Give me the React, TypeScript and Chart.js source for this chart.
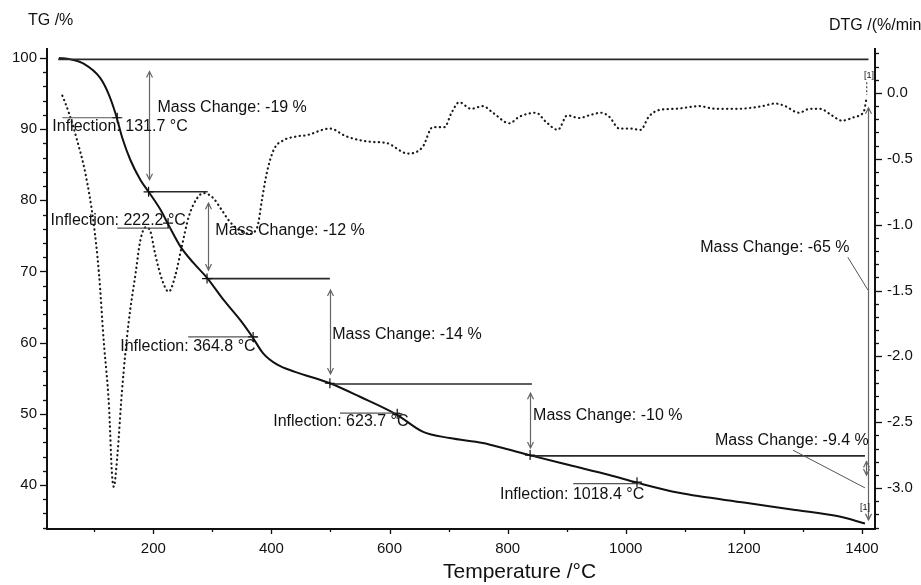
import React, { useEffect, useRef } from "react";
import { Chart, registerables } from "chart.js";

Chart.register(...registerables);

// ---------- data ----------
const tgTemp = [40, 60, 82, 110, 124, 136, 147, 161, 178, 192, 212, 226, 246, 268, 291, 319, 347, 367, 386, 410, 440, 499, 550, 612, 656, 702, 758, 792, 837, 904, 972, 1020, 1090, 1203, 1287, 1360, 1405];
const tgMass = [100, 99.8, 99.2, 97.2, 95.0, 92.2, 88.9, 85.7, 82.9, 81.2, 78.7, 76.5, 73.5, 71.2, 69.1, 66.0, 63.2, 60.9, 58.5, 56.9, 55.9, 54.3, 52.4, 49.9, 47.5, 46.6, 45.9, 45.2, 44.2, 42.8, 41.4, 40.3, 38.9, 37.5, 36.5, 35.6, 34.6];

const dtgTemp = [46, 57, 71, 85, 99, 108, 116, 125, 130, 133, 139, 147, 158, 170, 178, 187, 195, 203, 215, 226, 237, 248, 260, 274, 285, 302, 316, 330, 345, 362, 376, 384, 392, 404, 420, 443, 460, 499, 527, 566, 595, 631, 656, 673, 693, 705, 718, 738, 758, 775, 803, 820, 848, 865, 885, 901, 921, 938, 958, 972, 989, 1006, 1025, 1039, 1056, 1085, 1124, 1152, 1191, 1231, 1253, 1270, 1293, 1312, 1329, 1349, 1366, 1389, 1403, 1408];
const dtgRate = [-0.02, -0.15, -0.36, -0.61, -0.99, -1.37, -1.88, -2.38, -2.89, -2.99, -2.76, -2.26, -1.75, -1.37, -1.12, -1.02, -1.05, -1.22, -1.42, -1.51, -1.39, -1.17, -0.94, -0.80, -0.76, -0.80, -0.89, -0.98, -1.04, -1.07, -1.02, -0.81, -0.61, -0.43, -0.36, -0.33, -0.32, -0.27, -0.33, -0.37, -0.38, -0.46, -0.41, -0.26, -0.26, -0.15, -0.07, -0.12, -0.10, -0.15, -0.23, -0.18, -0.15, -0.22, -0.28, -0.17, -0.19, -0.17, -0.15, -0.18, -0.27, -0.27, -0.28, -0.18, -0.13, -0.12, -0.10, -0.12, -0.12, -0.10, -0.08, -0.10, -0.15, -0.12, -0.12, -0.17, -0.21, -0.18, -0.14, -0.03];

const tempTicks = [200, 400, 600, 800, 1000, 1200, 1400];
const tgTicks = [40, 50, 60, 70, 80, 90, 100];
const dtgTicks = [0, -0.5, -1, -1.5, -2, -2.5, -3];

// mass-change step lines: [tg, t1, t2]
const stepLines = [
  [99.8, 39, 1411],
  [81.2, 192, 292],
  [69.0, 291, 499],
  [54.2, 499, 841],
  [44.1, 838, 1405],
];
// vertical double arrows: [t, tgTop, tgBottom]
const stepArrows = [
  [193, 98.1, 82.9],
  [292, 79.6, 70.2],
  [499, 67.4, 55.6],
  [838, 52.9, 45.2],
  [1410, 93.0, 35.1],
  [1406, 43.3, 41.4],
];
const stepCrosses = [
  [192, 81.2],
  [291, 69.0],
  [499, 54.3],
  [838, 44.2],
];
// mass change labels: [text, t, tg]
const massLabels: [string, number, number][] = [
  ["Mass Change: -19 %", 207, 93.0],
  ["Mass Change: -12 %", 305, 75.7],
  ["Mass Change: -14 %", 503, 61.1],
  ["Mass Change: -10 %", 843, 49.8],
  ["Mass Change: -9.4 %", 1151, 46.3],
  ["Mass Change: -65 %", 1126, 73.4],
];
// leader lines: [t1, tg1, t2, tg2]
const leaders = [
  [1376, 72.0, 1410, 67.4],
  [1283, 44.9, 1405, 39.6],
];
// inflections: [text, labelT, labelTg, lineT1, lineT2, lineTg, markT, markTg]
const inflections: [string, number, number, number, number, number, number, number][] = [
  ["Inflection: 131.7 °C", 29, 90.3, 46, 144, 91.6, 139, 91.6],
  ["Inflection: 222.2 °C", 26, 77.2, 139, 229, 76.1, 225, 76.8],
  ["Inflection: 364.8 °C", 144, 59.4, 259, 376, 60.8, 369, 60.8],
  ["Inflection: 623.7 °C", 403, 48.9, 516, 618, 50.1, 613, 50.0],
  ["Inflection: 1018.4 °C", 787, 38.7, 911, 1024, 40.2, 1019, 40.4],
];
const markerTags: [string, number, number][] = [
  ["[1]", 1412, 97.5],
  ["[1]", 1405, 36.9],
];

const FONT = "'Liberation Sans', Arial, Helvetica, sans-serif";
const INK = "#111";

function arrowHead(ctx: CanvasRenderingContext2D, x: number, y: number, dir: number) {
  ctx.beginPath();
  ctx.moveTo(x - 3, y + dir * 6);
  ctx.lineTo(x, y);
  ctx.lineTo(x + 3, y + dir * 6);
  ctx.stroke();
}

const annoPlugin = {
  id: "tgAnno",
  afterDatasetsDraw(chart: any) {
    const { ctx, chartArea } = chart;
    const X = chart.scales.x;
    const YL = chart.scales.yL;
    const YR = chart.scales.yR;
    const px = (t: number) => X.getPixelForValue(t);
    const py = (v: number) => YL.getPixelForValue(v);
    ctx.save();

    // step lines
    ctx.strokeStyle = "#2a2a2a";
    ctx.lineWidth = 1.6;
    for (const [tg, t1, t2] of stepLines) {
      ctx.beginPath();
      ctx.moveTo(px(t1), py(tg));
      ctx.lineTo(px(t2), py(tg));
      ctx.stroke();
    }
    // arrows
    ctx.strokeStyle = "#666";
    ctx.lineWidth = 1.2;
    for (const [t, a, b] of stepArrows) {
      const x = Math.round(px(t)) + 0.5;
      const y1 = py(a), y2 = py(b);
      ctx.beginPath();
      ctx.moveTo(x, y1);
      ctx.lineTo(x, y2);
      ctx.stroke();
      arrowHead(ctx, x, y1, 1);
      arrowHead(ctx, x, y2, -1);
    }
    // leaders
    ctx.strokeStyle = "#555";
    ctx.lineWidth = 1;
    for (const [t1, a, t2, b] of leaders) {
      ctx.beginPath();
      ctx.moveTo(px(t1), py(a));
      ctx.lineTo(px(t2), py(b));
      ctx.stroke();
    }
    // inflection lines
    ctx.strokeStyle = "#555";
    ctx.lineWidth = 1.2;
    for (const inf of inflections) {
      const [, , , l1, l2, ltg] = inf;
      ctx.beginPath();
      ctx.moveTo(px(l1), py(ltg));
      ctx.lineTo(px(l2), py(ltg));
      ctx.stroke();
    }
    // crosses
    ctx.strokeStyle = INK;
    ctx.lineWidth = 1.2;
    const cross = (x: number, y: number) => {
      ctx.beginPath();
      ctx.moveTo(x - 5, y);
      ctx.lineTo(x + 5, y);
      ctx.moveTo(x, y - 5);
      ctx.lineTo(x, y + 5);
      ctx.stroke();
    };
    for (const inf of inflections) cross(px(inf[6]), py(inf[7]));
    for (const [t, tg] of stepCrosses) cross(px(t), py(tg));

    // dashed tag leader near the end of the DTG
    ctx.strokeStyle = "#444";
    ctx.setLineDash([2, 2]);
    ctx.beginPath();
    const endX = px(dtgTemp[dtgTemp.length - 1]);
    ctx.moveTo(endX, py(96.6));
    ctx.lineTo(endX, YR.getPixelForValue(dtgRate[dtgRate.length - 1]) - 2);
    ctx.stroke();
    ctx.setLineDash([]);

    // texts
    ctx.fillStyle = INK;
    ctx.textBaseline = "middle";
    ctx.textAlign = "left";
    ctx.font = `16px ${FONT}`;
    for (const [text, t, tg] of massLabels) ctx.fillText(text, px(t), py(tg));
    for (const inf of inflections) ctx.fillText(inf[0], px(inf[1]), py(inf[2]));
    ctx.font = `9px ${FONT}`;
    ctx.textAlign = "center";
    for (const [text, t, tg] of markerTags) ctx.fillText(text, px(t), py(tg));

    // axis tick marks
    ctx.strokeStyle = INK;
    ctx.lineWidth = 1.3;
    const L = chartArea.left, R = chartArea.right, B = chartArea.bottom;
    for (let v = 34; v <= 100; v += 2) {
      const y = Math.round(py(v)) + 0.5;
      const len = v % 10 === 0 ? 7 : 4;
      ctx.beginPath();
      ctx.moveTo(L - len, y);
      ctx.lineTo(L, y);
      ctx.stroke();
    }
    for (let k = -33; k <= 3; k++) {
      const v = k / 10;
      const y = Math.round(YR.getPixelForValue(v)) + 0.5;
      const len = k % 5 === 0 ? 7 : 4;
      ctx.beginPath();
      ctx.moveTo(R, y);
      ctx.lineTo(R + len, y);
      ctx.stroke();
    }
    for (let t = 100; t <= 1400; t += 100) {
      const x = Math.round(px(t)) + 0.5;
      const len = t % 200 === 0 ? 5 : 3;
      ctx.beginPath();
      ctx.moveTo(x, B);
      ctx.lineTo(x, B + len);
      ctx.stroke();
    }

    // axis titles
    ctx.textAlign = "left";
    ctx.font = `16px ${FONT}`;
    ctx.fillText("TG /%", 28, 21);
    ctx.fillText("DTG /(%/min", 829, 26);
    ctx.font = `21px ${FONT}`;
    ctx.fillText("Temperature /°C", 443, 572);
    ctx.restore();
  },
};

export default function App() {
  const ref = useRef<HTMLCanvasElement | null>(null);
  useEffect(() => {
    if (!ref.current) return;
    const tickFont = { family: FONT, size: 15 };
    const chart = new Chart(ref.current, {
      type: "line",
      data: {
        datasets: [
          {
            label: "TG",
            data: tgTemp.map((t, i) => ({ x: t, y: tgMass[i] })),
            yAxisID: "yL",
            borderColor: "#111",
            borderWidth: 2,
            pointRadius: 0,
            cubicInterpolationMode: "monotone",
            fill: false,
          },
          {
            label: "DTG",
            data: dtgTemp.map((t, i) => ({ x: t, y: dtgRate[i] })),
            yAxisID: "yR",
            borderColor: "#1a1a1a",
            borderWidth: 2.2,
            borderDash: [0.3, 4.3],
            borderCapStyle: "round",
            pointRadius: 0,
            cubicInterpolationMode: "monotone",
            fill: false,
          },
        ],
      },
      options: {
        responsive: false,
        animation: false,
        events: [],
        layout: { padding: { top: 49, left: 0, right: 0, bottom: 0 } },
        plugins: { legend: { display: false }, tooltip: { enabled: false } },
        scales: {
          x: {
            type: "linear",
            position: "bottom",
            min: 20,
            max: 1422,
            grid: { display: false, drawTicks: false },
            border: { display: true, color: INK, width: 2 },
            afterBuildTicks: (s: any) => { s.ticks = tempTicks.map((v) => ({ value: v })); },
            afterFit: (s: any) => { s.height = 56; },
            ticks: { font: tickFont, color: INK, padding: 11, autoSkip: false, maxRotation: 0, callback: (v: any) => String(v) },
          },
          yL: {
            type: "linear",
            position: "left",
            min: 33.82,
            max: 101.26,
            grid: { display: false, drawTicks: false },
            border: { display: true, color: INK, width: 2 },
            afterBuildTicks: (s: any) => { s.ticks = tgTicks.map((v) => ({ value: v })); },
            afterFit: (s: any) => { s.width = 47; },
            ticks: { font: tickFont, color: INK, padding: 10, autoSkip: false, callback: (v: any) => String(v) },
          },
          yR: {
            type: "linear",
            position: "right",
            min: -3.311,
            max: 0.334,
            grid: { display: false, drawTicks: false },
            border: { display: true, color: INK, width: 2 },
            afterBuildTicks: (s: any) => { s.ticks = dtgTicks.map((v) => ({ value: v })); },
            afterFit: (s: any) => { s.width = 46; },
            ticks: { font: tickFont, color: INK, padding: 12, autoSkip: false, callback: (v: any) => Number(v).toFixed(1) },
          },
        },
      },
      plugins: [annoPlugin],
    } as any);
    return () => chart.destroy();
  }, []);
  return (
    <div style={{ position: "absolute", left: 0, top: 0, width: 921, height: 585, background: "#fff" }}>
      <canvas ref={ref} width={921} height={585} style={{ display: "block", width: 921, height: 585 }} />
    </div>
  );
}
